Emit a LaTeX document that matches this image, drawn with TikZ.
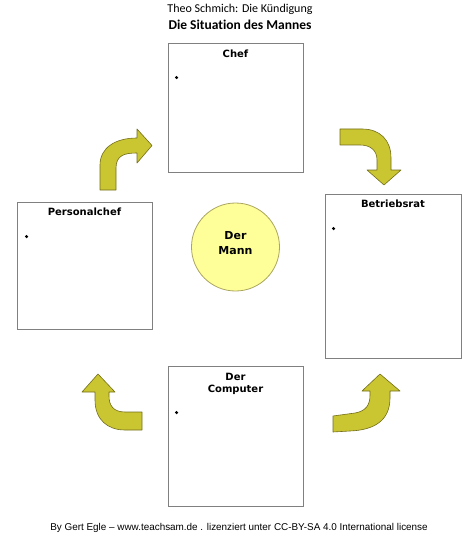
\documentclass[tikz,border=0pt]{standalone}
\usepackage{fontspec}
\setmainfont{Carlito}[Ligatures={TeX,NoCommon}]
\newfontfamily\verdfont{DejaVu Sans}
\newfontfamily\arialfont{Liberation Sans}
\usepackage{tikz}
\usetikzlibrary{positioning}
\usepackage{xcolor}
\definecolor{boxgray}{RGB}{128,128,128}
\definecolor{arrowfill}{RGB}{202,198,50}
\definecolor{arrowline}{RGB}{115,110,25}
\definecolor{mannfill}{RGB}{255,255,153}
\definecolor{mannline}{RGB}{170,165,95}

\begin{document}
\begin{tikzpicture}[x=1pt, y=-1pt,
    box/.style={draw=boxgray, line width=0.9pt, fill=white, inner sep=0pt},
    boxtitle/.style={font=\verdfont\bfseries\fontsize{10}{12.5}\selectfont, align=center, inner sep=0pt},
    bendarrow/.style={fill=arrowfill, draw=arrowline, line width=0.6pt, line join=round}]
    \useasboundingbox (0,0) rectangle (474,548);

    \node[font=\fontsize{12}{14}\selectfont] (autor) at (240,9) {Theo Schmich: Die Kündigung};
    \node[font=\bfseries\fontsize{13.5}{16}\selectfont] (titel) at (240,25) {Die Situation des Mannes};

    \node[box, minimum width=135pt, minimum height=129pt] (chef) at (235.5,107.5) {};
    \node[box, minimum width=135pt, minimum height=127pt] (personalchef) at (84.5,265.5) {};
    \node[box, minimum width=136pt, minimum height=164pt] (betriebsrat) at (393,276) {};
    \node[box, minimum width=135pt, minimum height=140pt] (computer) at (235.5,436) {};

    \node[boxtitle, below=7pt of chef.north] (chefT) {Chef};
    \node[boxtitle, below=6pt of personalchef.north] (personalchefT) {Personalchef};
    \node[boxtitle, below=6pt of betriebsrat.north] (betriebsratT) {Betriebsrat};
    \node[boxtitle, below=7pt of computer.north] (computerT) {Der\\Computer};

    \fill (chef.north west) ++(9,35) circle (1.7pt);
    \fill (personalchef.north west) ++(10,35) circle (1.7pt);
    \fill (betriebsrat.north west) ++(9,35) circle (1.7pt);
    \fill (computer.north west) ++(9,47) circle (1.7pt);

    \node[circle, draw=mannline, fill=mannfill, line width=0.8pt, minimum size=88pt] (mann) at (235.5,247) {};
    \node[font=\verdfont\bfseries\fontsize{11}{15}\selectfont, align=center] (mannT) at (235.5,243) {Der\\Mann};

    \draw[bendarrow] (100,190) -- (100,165) .. controls (100,148) and (115,138) .. (137,138)
        -- (137,129) -- (152,145.5) -- (137,163) -- (137,153)
        .. controls (125,153) and (116,155) .. (116,168) -- (116,190) -- cycle;
    \draw[bendarrow] (340,129) -- (362,129) .. controls (380,129) and (391,140) .. (391,158)
        -- (391,170) -- (401,170) -- (384,185) -- (367,170) -- (377,170) -- (377,160)
        .. controls (377,150) and (370,145) .. (360,145) -- (340,145) -- cycle;
    \draw[bendarrow] (142,412) -- (125,412) .. controls (113,412) and (109,405) .. (109,396)
        -- (109,392) -- (115,392) -- (98,374) -- (82,392) -- (95,392) -- (95,400)
        .. controls (95,420) and (108,430) .. (125,430) -- (142,430) -- cycle;
    \draw[bendarrow] (333,416) -- (355,413) .. controls (366,411) and (370,405) .. (370,395)
        -- (370,391) -- (362,391) -- (380,374) -- (400,391) -- (390,391) -- (390,398)
        .. controls (390,420) and (375,430) .. (350,431) -- (333,432) -- cycle;

    \node[font=\arialfont\fontsize{9.9}{12}\selectfont] (lizenz) at (239,528) {By Gert Egle – www.teachsam.de . lizenziert unter CC-BY-SA 4.0 International license};
\end{tikzpicture}
\end{document}
